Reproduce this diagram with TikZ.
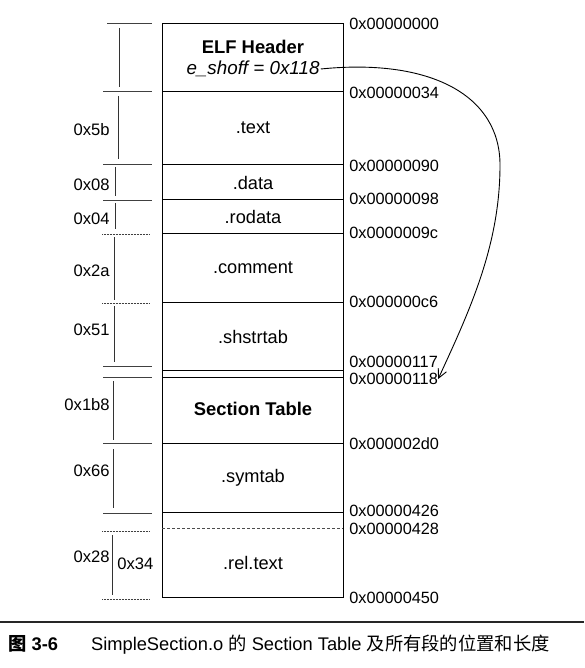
\documentclass[tikz,border=0pt]{standalone}
\usepackage{fontspec}
\setmainfont{Liberation Sans}
\newfontfamily\cjk{Noto Sans CJK SC}
\usetikzlibrary{arrows.meta}

\begin{document}
\begin{tikzpicture}[x=1pt,y=-1pt,line width=0.6pt,
    sec/.style={inner sep=1pt,font=\fontsize{18.2}{20}\selectfont},
    head/.style={inner sep=1pt,font=\fontsize{18.4}{20}\selectfont\bfseries},
    addr/.style={anchor=west,inner sep=0pt,font=\fontsize{16.3}{18}\selectfont},
    size/.style={anchor=east,inner sep=0pt,font=\fontsize{16.6}{18}\selectfont},
    tick/.style={black!75,line width=0.5pt},
    dimline/.style={black!80,line width=0.6pt}]

  \useasboundingbox (0,0) rectangle (584,668);

  % the sections, one above the other
  \draw (162,23) rectangle (343,597);
  \foreach \y in {91,164,199,233,302,370,377,443,512}
    \draw (162,\y) -- (343,\y);
  \draw[densely dashed,black!70] (162,528) -- (343,528);

  \node[head] (elf) at (253,47) {ELF Header};
  \node[sec,font=\fontsize{18.8}{20}\selectfont\itshape] (shoff) at (253,69) {e\_shoff = 0x118};
  \foreach \y/\n/\t in {128/text/.text,183/data/.data,217/rodata/.rodata,
      268/comment/.comment,337/shstrtab/.shstrtab,478/symtab/.symtab,563/reltext/.rel.text}
    \node[sec] (\n) at (253,\y) {\t};
  \node[head] (sectab) at (253,409) {Section Table};

  % offsets on the right
  \foreach \y/\n/\t in {24/a000/0x00000000,93/a034/0x00000034,166/a090/0x00000090,
      199/a098/0x00000098,233/a09c/0x0000009c,302/a0c6/0x000000c6,362/a117/0x00000117,
      379/a118/0x00000118,444/a2d0/0x000002d0,511/a426/0x00000426,529/a428/0x00000428,
      598/a450/0x00000450}
    \node[addr] (\n) at (349,\y) {\t};

  % sizes on the left
  \foreach \y/\n/\t in {130/s5b/0x5b,185/s08/0x08,219/s04/0x04,271/s2a/0x2a,330/s51/0x51,
      405/s1b8/0x1b8,471/s66/0x66,557/s28/0x28}
    \node[size] (\n) at (110,\y) {\t};
  \node[size,anchor=west] (s34) at (117,564) {0x34};

  \draw[tick] (107,23) -- (152,23);
  \foreach \y in {91,164,200,366,377,443,513}
    \draw[tick] (103,\y) -- (152,\y);
  \foreach \y in {234,303,531,599}
    \draw[tick,densely dotted] (102,\y) -- (150,\y);
  \foreach \x/\a/\b in {119/28/87,118/96/159,115/167/196,115/203/229,114/237/300,
      114/306/362,113/381/440,113/449/508,112/535/595}
    \draw[dimline] (\x,\a) -- (\x,\b);

  % e_shoff points at the section table
  \draw[line width=0.9pt,-{Straight Barb[length=9pt,width=9pt,line width=0.9pt]}] (shoff.east)
    .. controls (430,58) and (500,95) .. (500,165)
    .. controls (500,245) and (470,310) .. (a118.east);

  % caption
  \draw[line width=1.2pt,black!85] (0,622) -- (584,622);
  \node[anchor=west,inner sep=0pt,font=\fontsize{18.3}{20}\selectfont] (cap) at (8,645)
    {{\cjk\bfseries 图} \textbf{3-6}\hspace{1.8em}SimpleSection.o {\cjk 的} Section Table {\cjk 及所有段的位置和长度}};
\end{tikzpicture}
\end{document}
